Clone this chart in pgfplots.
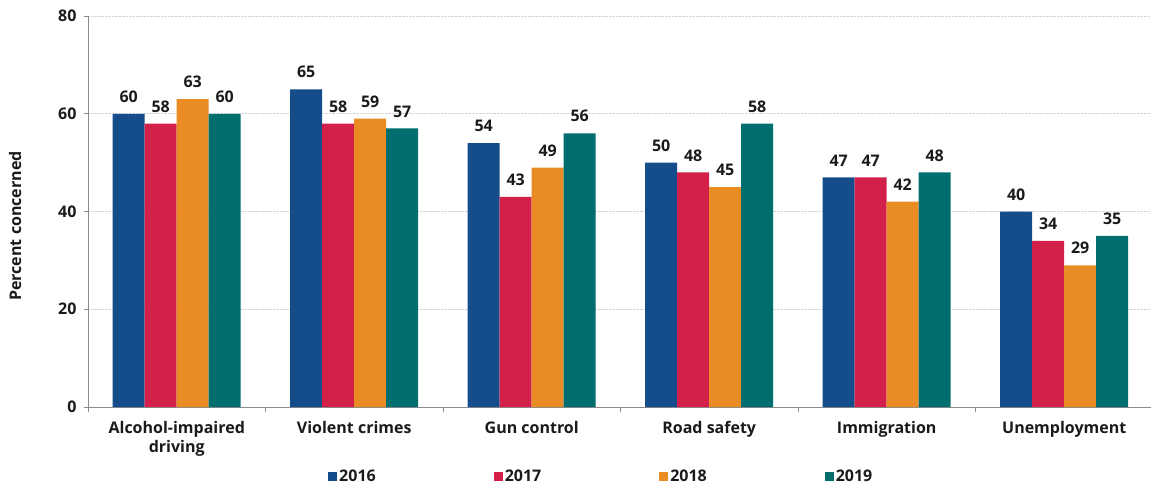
\documentclass[border=0pt]{standalone}
\usepackage{pgfplots}
\pgfplotsset{compat=1.18}
\usepackage{fontspec}
\setmainfont{Open Sans}

\definecolor{cBlue}{HTML}{154C8A}
\definecolor{cRed}{HTML}{D2204A}
\definecolor{cOrange}{HTML}{EA8C24}
\definecolor{cTeal}{HTML}{006E6E}
\definecolor{cText}{HTML}{1A1A1A}
\definecolor{cAxis}{HTML}{8C8C8C}
\definecolor{cGrid}{HTML}{D4D4D4}

\newcommand{\lblfont}{\fontsize{16}{19}\selectfont\bfseries}

\begin{document}
\begin{tikzpicture}[x=1pt,y=1pt]
\begin{axis}[
  at={(0,0)}, anchor=south west,
  scale only axis, width=1065pt, height=391pt,
  ybar=0pt, bar width=32pt,
  xmin=-0.5, xmax=5.5, ymin=0, ymax=80,
  ytick={0,20,40,60,80},
  xtick={0,...,5},
  xticklabels={{Alcohol-impaired\\driving},Violent crimes,Gun control,Road safety,Immigration,Unemployment},
  minor xtick={-0.5,0.5,...,5.5},
  major x tick style={draw=none},
  minor x tick style={cAxis, line width=0.8pt},
  minor tick length=5pt,
  y tick style={cAxis, line width=0.8pt},
  major tick length=4pt,
  tick align=outside,
  xtick pos=bottom, ytick pos=left,
  axis x line*=bottom, axis y line*=left,
  x axis line style={-, cAxis, line width=0.8pt},
  y axis line style={-, cAxis, line width=0.8pt},
  ymajorgrids,
  grid style={cGrid, densely dotted, line width=0.8pt},
  /pgf/number format/assume math mode=true,
  ticklabel style={font=\lblfont, text=cText},
  xticklabel style={align=center, yshift=-7pt},
  yticklabel style={xshift=-4pt},
  ylabel={Percent concerned},
  every axis y label/.style={at={(axis description cs:-0.0685,0.463)}, rotate=90, anchor=center,
    font=\fontsize{16}{18}\selectfont\bfseries, text=cText},
  nodes near coords,
  nodes near coords style={font=\lblfont, text=cText, anchor=south, inner sep=0pt, yshift=11pt},
  legend columns=4,
  legend image code/.code={\fill[#1,draw=none] (0pt,-4.5pt) rectangle (9pt,4.5pt);},
  legend style={draw=none, fill=none, inner sep=0pt,
    at={(axis description cs:0.2254,-0.1765)}, anchor=west,
    font=\lblfont, text=cText,
    nodes={inner sep=2pt},
    /tikz/every even column/.append style={column sep=116pt}},
]
\addplot[fill=cBlue, draw=none] coordinates {(0,60) (1,65) (2,54) (3,50) (4,47) (5,40)};
\addplot[fill=cRed, draw=none] coordinates {(0,58) (1,58) (2,43) (3,48) (4,47) (5,34)};
\addplot[fill=cOrange, draw=none] coordinates {(0,63) (1,59) (2,49) (3,45) (4,42) (5,29)};
\addplot[fill=cTeal, draw=none] coordinates {(0,60) (1,57) (2,56) (3,58) (4,48) (5,35)};
\legend{2016,2017,2018,2019}
\end{axis}
\pgfresetboundingbox
\path (-88,-81) rectangle (1063,407);
\end{tikzpicture}
\end{document}
